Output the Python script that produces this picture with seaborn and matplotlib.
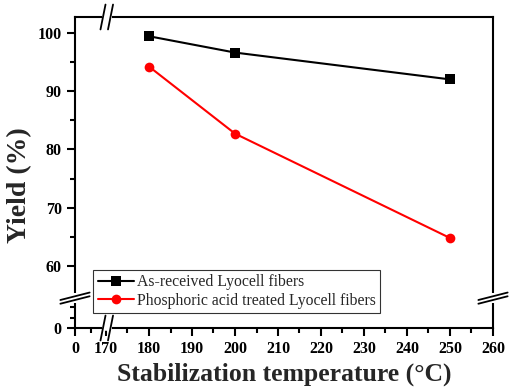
import numpy as np
import pandas as pd
import matplotlib
matplotlib.use("Agg")
import matplotlib.pyplot as plt
import seaborn as sns
from matplotlib.ticker import FixedLocator

temps = [180, 200, 250]
as_received = [99.4, 96.6, 92.0]
phosphoric = [94.2, 82.7, 64.8]
series_names = ["As-received Lyocell fibers", "Phosphoric acid treated Lyocell fibers"]
x_major = [0, 170, 180, 190, 200, 210, 220, 230, 240, 250, 260]
y_major = [0, 60, 70, 80, 90, 100]

sns.set_theme(style="white")
plt.rcParams['font.family'] = ['Liberation Serif', 'DejaVu Serif']

fig = plt.figure(figsize=(5.09, 3.88), dpi=100)
ax = fig.add_axes([75/509, 1-328/388, (493-75)/509, (328-17)/388])

# piecewise (broken) scales
xp, xf = [0, 170, 260], [0, 31, 418]
yp, yf = [0, 60, 105], [0, 62, 62 + 45 * 5.83]
ax.set_xscale('function', functions=(lambda v: np.interp(v, xp, xf), lambda v: np.interp(v, xf, xp)))
ax.set_yscale('function', functions=(lambda v: np.interp(v, yp, yf), lambda v: np.interp(v, yf, yp)))

df = pd.DataFrame({
    "T": temps * 2,
    "Yield": as_received + phosphoric,
    "Series": [series_names[0]] * 3 + [series_names[1]] * 3,
})
sns.lineplot(data=df, x="T", y="Yield", hue="Series", style="Series",
             palette={series_names[0]: "black", series_names[1]: "#ff0000"},
             markers={series_names[0]: "s", series_names[1]: "o"},
             dashes=False, markersize=7, markeredgewidth=0, linewidth=1.5, ax=ax)

ax.set_xlim(0, 260)
ax.set_ylim(0, 102.7)
ax.xaxis.set_major_locator(FixedLocator(x_major))
ax.xaxis.set_minor_locator(FixedLocator([85, 175, 185, 195, 205, 215, 225, 235, 245, 255]))
ax.yaxis.set_major_locator(FixedLocator(y_major))
ax.yaxis.set_minor_locator(FixedLocator([10, 20, 65, 75, 85, 95]))
ax.set_xticklabels([str(v) for v in x_major])
ax.set_yticklabels([str(v) for v in y_major])

for s in ax.spines.values():
    s.set_color("black")
    s.set_linewidth(1.5)
ax.tick_params(axis='both', which='major', direction='out', length=6, width=1.5,
               colors='black', labelsize=11.5, bottom=True, left=True, top=False, right=False)
ax.tick_params(axis='both', which='minor', direction='out', length=3.5, width=1.5,
               colors='black', bottom=True, left=True, top=False, right=False)
for lab in ax.get_xticklabels() + ax.get_yticklabels():
    lab.set_fontweight('bold')

ax.set_xlabel("Stabilization temperature (\u00b0C)", fontsize=18.5, fontweight='bold', labelpad=4)
ax.set_ylabel("Yield (%)", fontsize=20, fontweight='bold')
ax.yaxis.set_label_coords(-0.103, 0.46)

leg = ax.legend(loc='lower left', bbox_to_anchor=(0.024, 0.022), fontsize=11.3,
                frameon=True, fancybox=False, edgecolor='black', handlelength=2.3,
                handletextpad=0.2, borderpad=0.3, labelspacing=0.15)
leg.get_frame().set_linewidth(0.8)
leg.set_title(None)

# break marks
def xbreak(xa, ya):
    d = 0.012
    ax.plot([xa - 0.003, xa + 0.021], [ya, ya], transform=ax.transAxes, color='white', lw=4,
            clip_on=False, solid_capstyle='butt', zorder=5)
    for off in (0.0, 0.018):
        ax.plot([xa + off - d * 0.5, xa + off + d * 0.5], [ya - 0.04, ya + 0.04],
                transform=ax.transAxes, color='black', lw=1.3, clip_on=False, zorder=6)

def ybreak(xa, ya):
    ax.plot([xa, xa], [ya - 0.01, ya + 0.022], transform=ax.transAxes, color='white', lw=4,
            clip_on=False, solid_capstyle='butt', zorder=5)
    for off in (0.0, 0.012):
        ax.plot([xa - 0.035, xa + 0.035], [ya + off - 0.012, ya + off + 0.012],
                transform=ax.transAxes, color='black', lw=1.3, clip_on=False, zorder=6)

bx = (103 - 75) / 418
by = (328 - 300) / 311
xbreak(bx, 0)
xbreak(bx, 1)
ybreak(0, by)
ybreak(1, by)

fig.savefig("out.png", dpi=100)
